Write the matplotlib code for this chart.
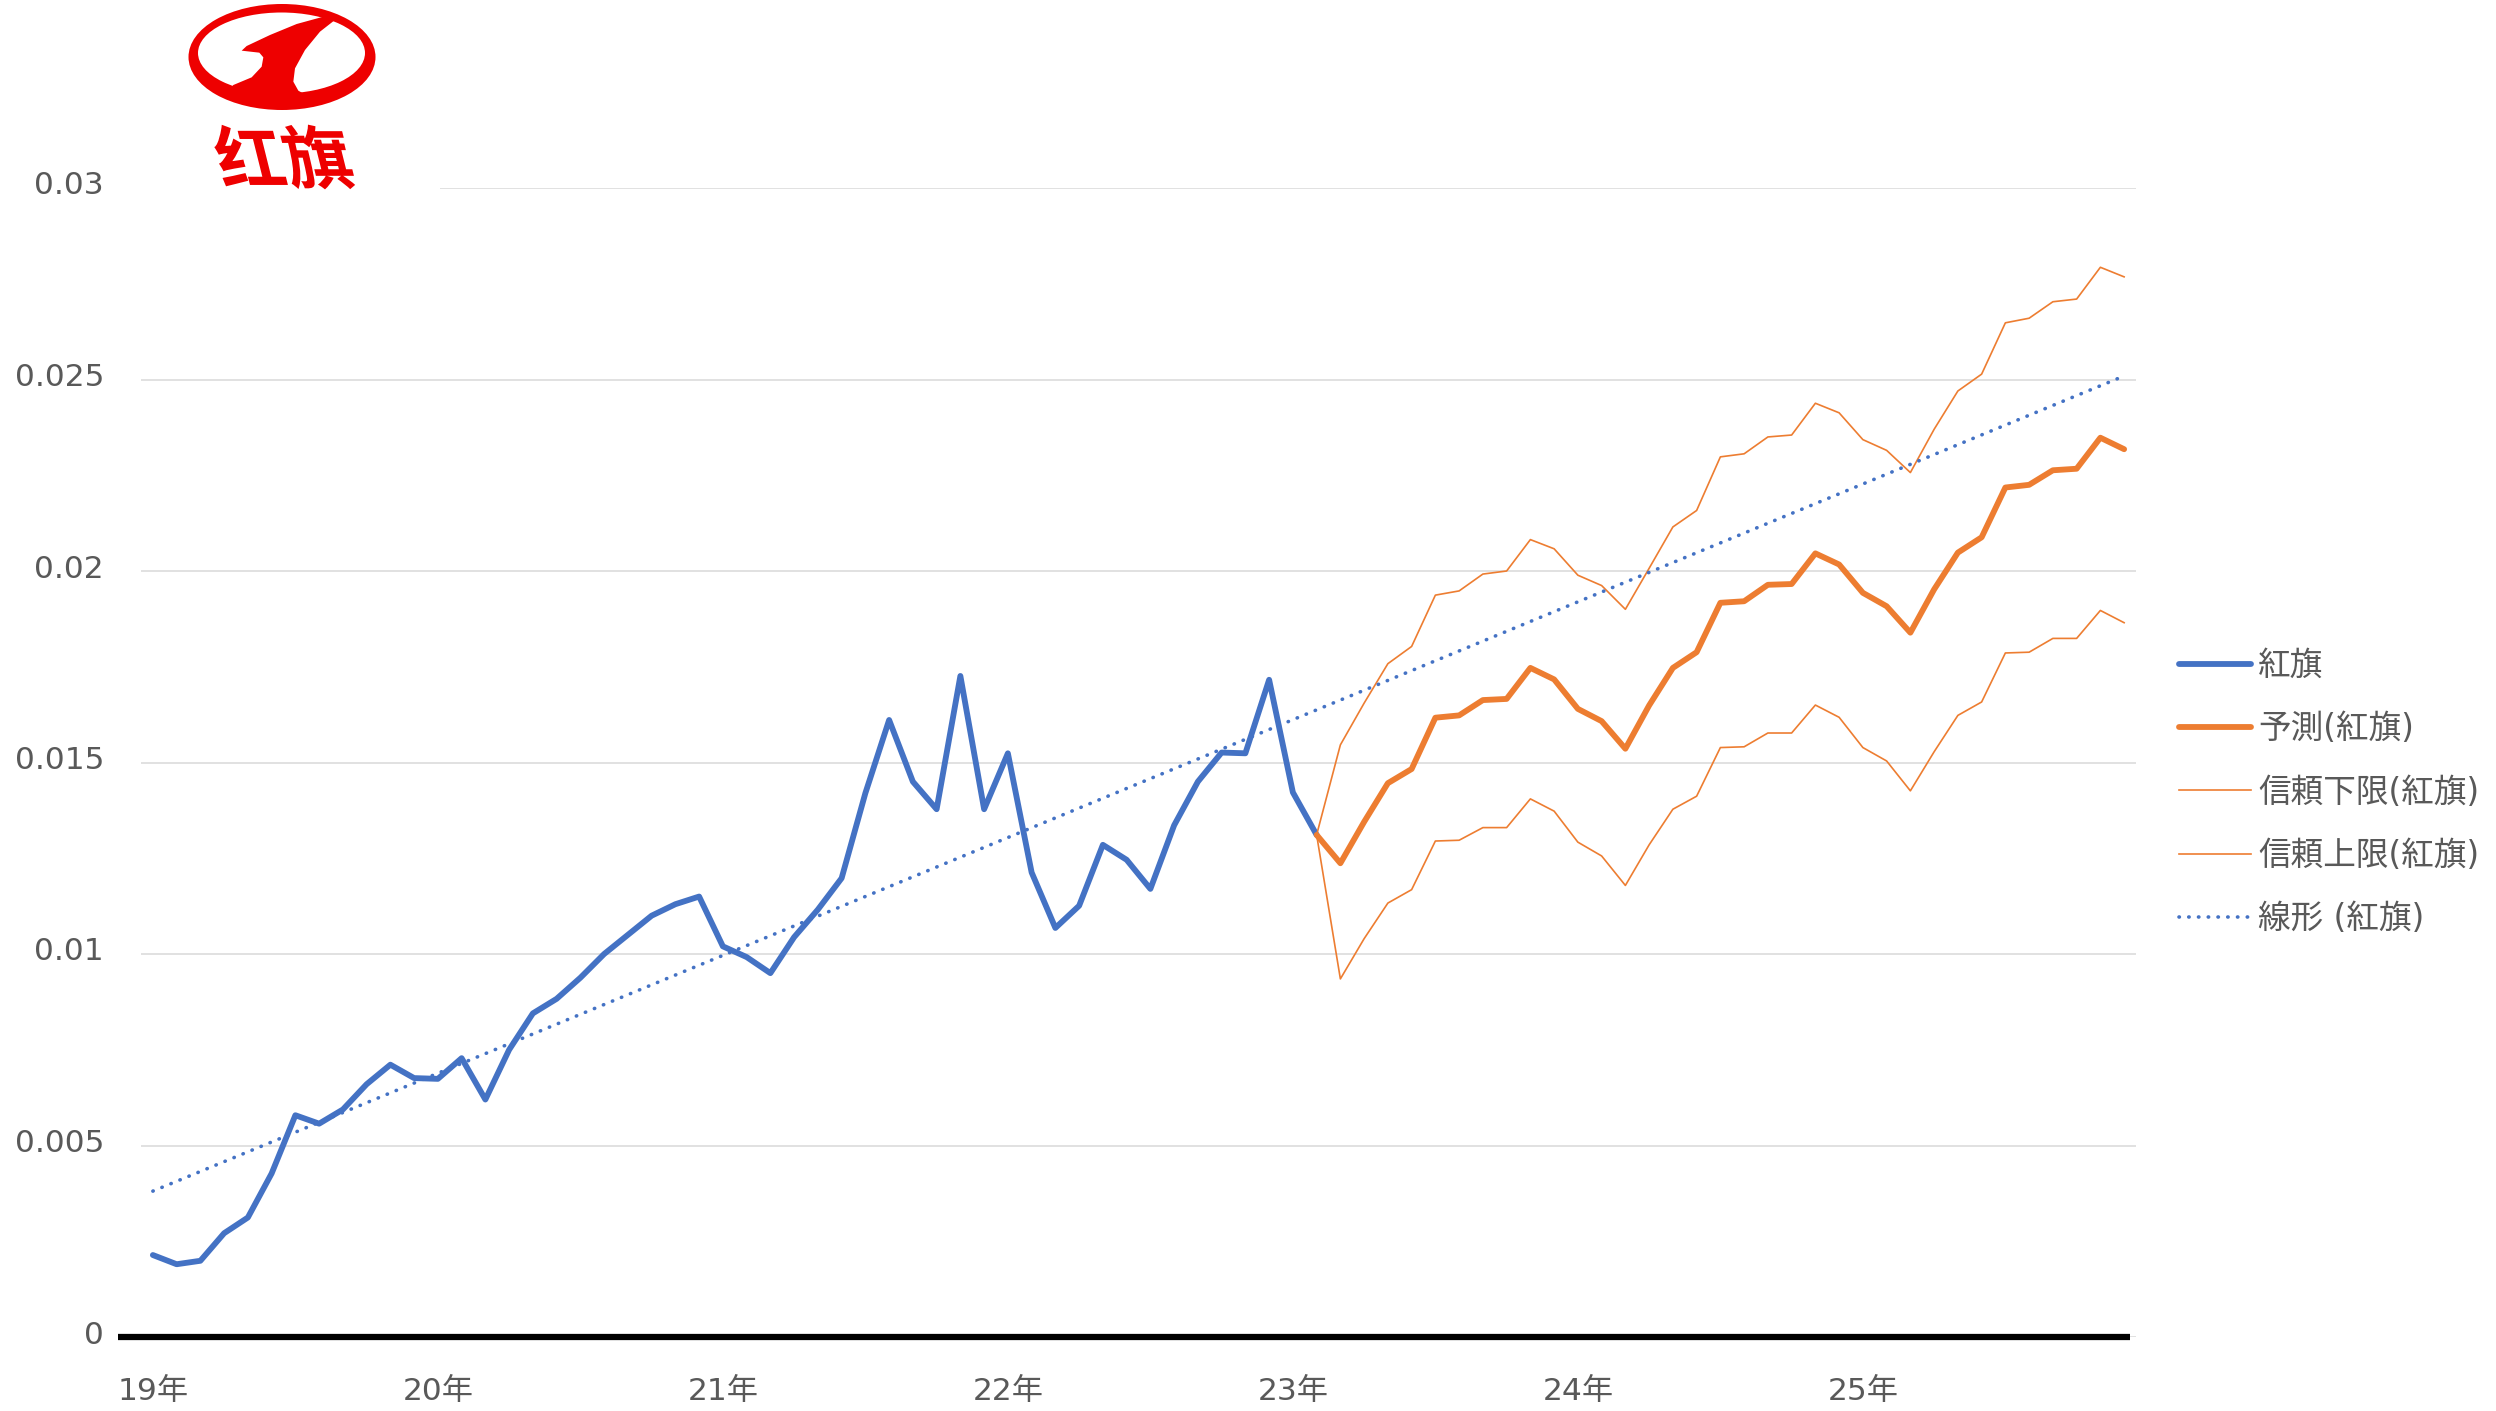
import matplotlib
matplotlib.use('Agg')
import matplotlib.pyplot as plt
from matplotlib.patches import Ellipse, Polygon, Rectangle, PathPatch
from matplotlib.textpath import TextPath
from matplotlib.font_manager import FontProperties
from matplotlib.transforms import Affine2D, ScaledTranslation
from matplotlib.lines import Line2D
import numpy as np

plt.rcParams['font.family'] = ['DejaVu Sans', 'Noto Sans CJK JP']

W, H = 2496, 1411

# monthly share, Jan 2019 .. Feb 2023
hongqi = [0.00214, 0.0019, 0.00199, 0.00271, 0.00312, 0.00427, 0.00579, 0.00557, 0.00594, 0.0066,
          0.00711, 0.00676, 0.00674, 0.00728, 0.0062, 0.0075, 0.00845, 0.00883, 0.00938, 0.0100,
          0.0105, 0.0110, 0.0113, 0.0115, 0.0102, 0.00992, 0.0095, 0.01044, 0.01116, 0.01198,
          0.0142, 0.01611, 0.0145, 0.01378, 0.01726, 0.01378, 0.01524, 0.01213, 0.01068, 0.01126,
          0.01285, 0.01246, 0.0117, 0.01336, 0.0145, 0.01526, 0.01524, 0.01716, 0.01422, 0.01311]

# forecast from Feb 2023 .. Dec 2025
forecast = [0.01311, 0.01237, 0.01345, 0.01446, 0.01483, 0.01617, 0.01623, 0.01663, 0.01666, 0.01747,
            0.01717, 0.0164, 0.01608, 0.01536, 0.01649, 0.01747, 0.01788, 0.01917, 0.01921, 0.01964,
            0.01966, 0.02046, 0.02017, 0.01943, 0.01908, 0.01839, 0.01952, 0.02048, 0.02088, 0.02218,
            0.02225, 0.02263, 0.02267, 0.02348, 0.02318]
lower = [0.01311, 0.00935, 0.0104, 0.01133, 0.01168, 0.01295, 0.01297, 0.0133, 0.0133, 0.01405,
         0.01373, 0.01292, 0.01256, 0.01179, 0.01285, 0.01378, 0.01412, 0.01539, 0.01541, 0.01577,
         0.01577, 0.0165, 0.01618, 0.01539, 0.01504, 0.01426, 0.01528, 0.01623, 0.01658, 0.01786,
         0.01788, 0.01824, 0.01824, 0.01897, 0.01865]
upper = [0.01311, 0.01546, 0.01655, 0.01758, 0.01803, 0.01937, 0.01948, 0.01992, 0.02, 0.02082,
         0.02058, 0.01989, 0.01962, 0.019, 0.02007, 0.02115, 0.02158, 0.02298, 0.02306, 0.0235,
         0.02355, 0.02438, 0.02413, 0.02343, 0.02315, 0.02257, 0.0237, 0.0247, 0.02514, 0.02648,
         0.0266, 0.02703, 0.0271, 0.02793, 0.02768]

year_labels = ['19年', '20年', '21年', '22年', '23年', '24年', '25年']
ytick_vals = [0, 0.005, 0.01, 0.015, 0.02, 0.025, 0.03]
ytick_labels = ['0', '0.005', '0.01', '0.015', '0.02', '0.025', '0.03']
legend_labels = ['紅旗', '予測(紅旗)', '信頼下限(紅旗)', '信頼上限(紅旗)', '線形 (紅旗)']

blue = '#4472C4'
orange = '#ED7D31'
grey = '#595959'

x_hist = np.arange(len(hongqi))
x_fc = np.arange(len(hongqi) - 1, len(hongqi) - 1 + len(forecast))
x_all = np.arange(len(hongqi) - 1 + len(forecast))
coef = np.polyfit(x_hist, hongqi, 1)
trend = np.polyval(coef, x_all)

fig = plt.figure(figsize=(W / 100, H / 100), dpi=100)
ax = fig.add_axes([141 / W, 1 - 1337 / H, 1995 / W, 1149 / H])

dots = (0, (0.1, 2.6))
ax.plot(x_hist, hongqi, color=blue, lw=4.2, solid_joinstyle='round', solid_capstyle='round', zorder=3)
ax.plot(x_fc, forecast, color=orange, lw=4.2, solid_joinstyle='round', solid_capstyle='round', zorder=3)
ax.plot(x_fc, lower, color=orange, lw=1.2, zorder=3)
ax.plot(x_fc, upper, color=orange, lw=1.2, zorder=3)
ax.plot(x_all, trend, color=blue, lw=2.6, linestyle=dots, dash_capstyle='round', zorder=4)

ax.set_xlim(-0.5, len(x_all) - 0.5)
ax.set_ylim(0, 0.03)
for s in ax.spines.values():
    s.set_visible(False)
ax.yaxis.grid(True, color='#D9D9D9', lw=1.1)
ax.set_axisbelow(True)
ax.plot([-0.0115, 0.997], [0, 0], transform=ax.transAxes, color='black', lw=4.5,
        solid_capstyle='butt', clip_on=False, zorder=2)

ax.set_yticks(ytick_vals)
ax.set_yticklabels(ytick_labels)
ax.set_xticks(np.arange(0, len(x_all), 12))
ax.set_xticklabels(year_labels)
ax.tick_params(axis='y', length=0, pad=26.6, labelsize=22.5, labelcolor=grey)
ax.tick_params(axis='x', length=0, pad=29, labelsize=22.5, labelcolor=grey)
# y labels sit a little above their gridlines
nudge = ScaledTranslation(0, 5 / 100, fig.dpi_scale_trans)
for lab in ax.get_yticklabels():
    lab.set_transform(lab.get_transform() + nudge)

# legend
handles = [Line2D([], [], color=blue, lw=4.2, solid_capstyle='round'),
           Line2D([], [], color=orange, lw=4.2, solid_capstyle='round'),
           Line2D([], [], color=orange, lw=1.2),
           Line2D([], [], color=orange, lw=1.2),
           Line2D([], [], color=blue, lw=2.6, linestyle=dots, dash_capstyle='round')]
fig.legend(handles, legend_labels, loc='upper left', bbox_to_anchor=(2179 / W, 1 - 649 / H),
           frameon=False, fontsize=23.5, labelcolor=grey, borderpad=0, borderaxespad=0,
           handlelength=2.2, handletextpad=0.22, labelspacing=0.93)

# logo (pixel coords from top-left)
def fx(x):
    return x / W

def fy(y):
    return 1 - y / H

logo_red = '#EE0000'
fig.add_artist(Rectangle((fx(140), fy(205)), fx(300), 205 / H, transform=fig.transFigure,
                         facecolor='white', edgecolor='none', zorder=5))
fig.add_artist(Ellipse((fx(282), fy(57)), 187 / W, 106 / H, transform=fig.transFigure,
                       facecolor=logo_red, edgecolor='none', zorder=6))
fig.add_artist(Ellipse((fx(281.5), fy(53)), 167 / W, 81 / H, transform=fig.transFigure,
                       facecolor='white', edgecolor='none', zorder=7))
swoosh = [(445, 46), (475, 52), (420, 95), (375, 150), (345, 205), (340, 245), (355, 272),
          (390, 292), (130, 292), (160, 255), (215, 232), (245, 200), (250, 172), (238, 158),
          (185, 152), (200, 138), (270, 105), (350, 72)]
fig.add_artist(Polygon([(fx(180 + a / 3), fy(b / 3)) for a, b in swoosh], closed=True,
                       transform=fig.transFigure, facecolor=logo_red, edgecolor='none', zorder=8))

tp = TextPath((0, 0), '红旗', size=68, prop=FontProperties(family='Noto Sans CJK SC', weight='bold'))
tb = tp.get_extents()
tr = Affine2D().translate(-(tb.x0 + tb.x1) / 2, -(tb.y0 + tb.y1) / 2).skew_deg(-14, 0).translate(283, H - 157)
fig.add_artist(PathPatch(tp, transform=tr, facecolor=logo_red, edgecolor='none', zorder=9))

fig.savefig('out.png', dpi=100, facecolor='white')
